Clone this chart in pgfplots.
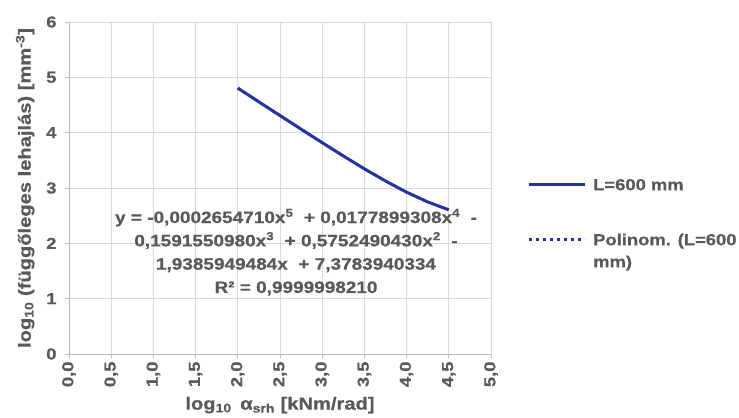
\documentclass[border=0pt]{standalone}
\usepackage{fontspec}
\setmainfont[FakeStretch=1.15, BoldFeatures={FakeBold=0.6}]{Liberation Sans}
\usepackage{pgfplots}
\pgfplotsset{compat=1.18}
\definecolor{txt}{RGB}{89,89,89}
\definecolor{gridc}{RGB}{222,216,210}
\definecolor{axc}{RGB}{190,185,180}
\definecolor{ln}{RGB}{38,50,158}
\pgfplotstableread{
x y
2.00 4.8051
2.25 4.5565
2.50 4.3094
2.75 4.0633
3.00 3.8191
3.25 3.5790
3.50 3.3465
3.75 3.1263
4.00 2.9245
4.25 2.7481
4.50 2.6056
}\datatab
\begin{document}
\begin{tikzpicture}
\begin{axis}[name=ax, scale only axis, width=422bp, height=332bp,
 xmin=0, xmax=5, ymin=0, ymax=6,
 xtick={0,0.5,...,5}, ytick={0,1,...,6},
 grid=major, major grid style={draw=gridc, line width=0.8bp},
 axis x line*=bottom, axis y line*=left,
 axis line style={draw=axc, line width=0.9bp},
 tick align=outside, major tick length=4bp,
 tick style={draw=axc, line width=0.8bp},
 /pgf/number format/assume math mode=true,
 ticklabel style={font=\fontsize{16bp}{16bp}\selectfont\bfseries, text=txt},
 yticklabel style={xshift=-5bp},
 xlabel={log\textsubscript{10}\, α\textsubscript{srh} [kNm/rad]},
 ylabel={log\textsubscript{10} (függőleges lehajlás) [mm\textsuperscript{-3}]},
 label style={font=\fontsize{17.5bp}{18bp}\selectfont\bfseries, text=txt},
 xlabel style={yshift=-3bp},
 ylabel style={yshift=5bp},
 legend style={draw=none, fill=none, inner sep=0pt, at={(1.0853,0.530)}, anchor=north west,
   font=\fontsize{16bp}{17bp}\selectfont\bfseries, text=txt,
   row sep=6.5bp, column sep=7bp,
   cells={anchor=base west},
   nodes={inner sep=0pt, text height=12bp, text depth=3.5bp}},
 legend image code/.code={\draw[#1] (0bp,5.8bp) -- (56bp,5.8bp);},
 x tick label style={rotate=90, anchor=east, /pgf/number format/.cd, fixed, fixed zerofill, precision=1, use comma},
]
\addplot[ln, line width=3bp] table[x=x,y=y] {\datatab};
\addlegendentry[text depth=36.5bp]{L=600 mm}
\addplot[ln, line width=2.4bp, dash pattern=on 3bp off 4bp] table[x=x,y=y] {\datatab};
\addlegendentry{Polinom. (L=600}
\addlegendimage{empty legend}
\addlegendentry{mm)}
\node[align=center, font=\fontsize{16.5bp}{23.3bp}\selectfont\bfseries, text=txt] at (axis cs:2.69,1.84)
 {y = -0,0002654710x\textsuperscript{5} \ + 0,0177899308x\textsuperscript{4} \ -\\
  0,1591550980x\textsuperscript{3} \ + 0,5752490430x\textsuperscript{2} \ -\\
  1,9385949484x \ + 7,3783940334\\
  R² = 0,9999998210};
\end{axis}
\pgfresetboundingbox
\useasboundingbox ([xshift=-69bp,yshift=-64bp]ax.south west) rectangle ([xshift=670bp,yshift=354bp]ax.south west);
\end{tikzpicture}
\end{document}
